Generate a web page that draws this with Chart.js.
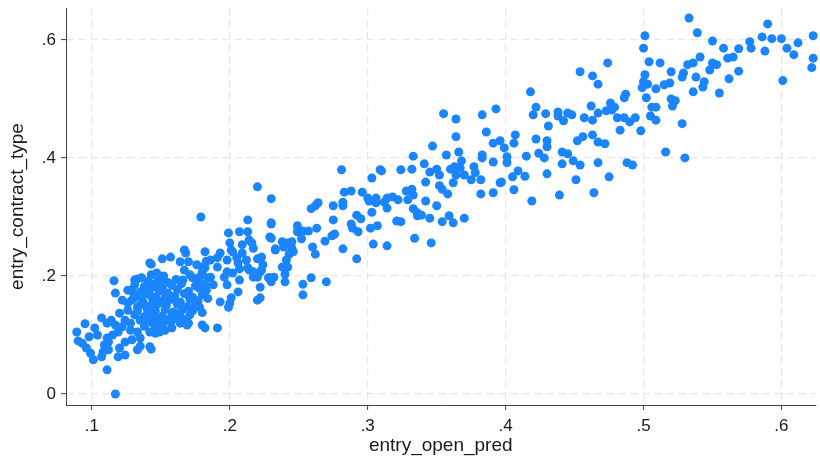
<!DOCTYPE html>
<html lang="en">
<head>
  <meta charset="UTF-8" />
  <title>entry_contract_type vs entry_open_pred</title>
  <script src="https://cdn.jsdelivr.net/npm/chart.js@4"></script>
  <style>
    html, body { margin: 0; padding: 0; background: #fff; }
    #wrap { width: 820px; height: 457px; }
  </style>
</head>
<body>
  <div id="wrap"><canvas id="scatter" width="820" height="457"></canvas></div>

  <script>
    const xTitle = 'entry_open_pred';
    const yTitle = 'entry_contract_type';
    const xTicks = [0.1, 0.2, 0.3, 0.4, 0.5, 0.6];
    const yTicks = [0, 0.2, 0.4, 0.6];

    // [entry_open_pred, entry_contract_type]
    const leftTail = [
      [0.089,0.105],[0.095,0.119],[0.102,0.112],[0.098,0.097],[0.090,0.090],[0.093,0.086],[0.096,0.078],
      [0.099,0.069],[0.101,0.058],[0.107,0.063],[0.108,0.071],[0.112,0.075],[0.107,0.129],[0.111,0.120],
      [0.114,0.125],[0.111,0.095],[0.112,0.088],[0.111,0.041],[0.117,0.000],[0.116,0.192],[0.117,0.171],
      [0.119,0.063],[0.120,0.078],[0.124,0.066],[0.119,0.105],[0.128,0.108],[0.133,0.105],[0.124,0.088],
      [0.129,0.092],[0.135,0.095],[0.133,0.075],[0.135,0.081],[0.120,0.137],[0.124,0.125],[0.128,0.120],
      [0.122,0.114],[0.122,0.159],[0.126,0.154],[0.133,0.147],[0.131,0.163],[0.129,0.176],[0.130,0.171],
      [0.133,0.195],[0.136,0.197],[0.140,0.178],[0.138,0.171],[0.138,0.122],[0.140,0.134],[0.104,0.100],
      [0.109,0.083],[0.115,0.100],[0.117,0.117],
      [0.142,0.080],[0.143,0.076],[0.146,0.103],[0.149,0.105],[0.147,0.129],[0.142,0.137],[0.144,0.120],
      [0.158,0.125],[0.164,0.120],[0.169,0.117],[0.142,0.222],[0.143,0.202],[0.147,0.205],[0.152,0.200],
      [0.146,0.164],[0.144,0.151]
    ];

    const denseCluster = [
      [0.167,0.244],[0.168,0.239],[0.182,0.241],[0.151,0.229],[0.157,0.232],[0.143,0.220],[0.164,0.224],
      [0.170,0.224],[0.176,0.219],[0.183,0.225],[0.131,0.193],[0.182,0.214],[0.180,0.207],[0.167,0.210],
      [0.171,0.202],[0.166,0.193],[0.173,0.197],[0.178,0.198],[0.184,0.197],
      [0.141,0.191],[0.148,0.195],[0.155,0.189],[0.161,0.194],[0.177,0.190],
      [0.131,0.185],[0.138,0.182],[0.146,0.186],[0.151,0.181],[0.158,0.184],[0.165,0.187],[0.175,0.183],[0.182,0.186],
      [0.126,0.176],[0.135,0.173],[0.142,0.178],[0.149,0.175],[0.155,0.171],[0.162,0.177],[0.170,0.174],[0.178,0.179],
      [0.133,0.167],[0.141,0.169],[0.146,0.165],[0.153,0.168],[0.160,0.166],[0.167,0.170],[0.173,0.164],[0.180,0.168],
      [0.129,0.159],[0.137,0.157],[0.144,0.161],[0.151,0.158],[0.157,0.160],[0.164,0.156],[0.171,0.161],[0.177,0.158],[0.184,0.162],
      [0.135,0.151],[0.142,0.149],[0.148,0.153],[0.154,0.150],[0.162,0.152],[0.169,0.148],[0.175,0.151],
      [0.126,0.142],[0.133,0.140],[0.140,0.144],[0.146,0.141],[0.153,0.143],[0.159,0.139],[0.166,0.144],[0.173,0.141],[0.180,0.138],
      [0.131,0.134],[0.138,0.131],[0.145,0.135],[0.151,0.132],[0.158,0.136],[0.164,0.138],
      [0.135,0.125],[0.142,0.127],[0.148,0.123],[0.154,0.126],[0.161,0.129],[0.167,0.126],
      [0.138,0.115],[0.146,0.113],[0.151,0.116],[0.158,0.112],[0.142,0.105],[0.153,0.108],
      [0.180,0.117],[0.182,0.112],[0.191,0.112],[0.200,0.154],[0.199,0.147],[0.220,0.159],[0.193,0.156],
      [0.178,0.147],[0.171,0.134],[0.164,0.131],[0.157,0.122],[0.149,0.120],[0.170,0.120],[0.151,0.190],[0.144,0.181]
    ];

    const midLow = [
      [0.179,0.300],[0.220,0.351],[0.213,0.295],[0.199,0.273],[0.207,0.275],[0.213,0.275],[0.214,0.261],
      [0.200,0.256],[0.209,0.253],[0.217,0.247],[0.201,0.244],[0.193,0.239],[0.191,0.231],[0.198,0.227],
      [0.205,0.231],[0.212,0.227],[0.220,0.229],[0.198,0.207],[0.207,0.212],[0.214,0.210],[0.217,0.198],
      [0.230,0.290],[0.229,0.266],[0.216,0.256],[0.238,0.258],[0.233,0.244],[0.202,0.241],[0.209,0.239],
      [0.223,0.232],[0.186,0.227],[0.180,0.215],[0.191,0.215],[0.206,0.222],[0.213,0.214],[0.224,0.219],
      [0.238,0.215],[0.202,0.205],[0.217,0.207],[0.222,0.207],[0.229,0.197],[0.186,0.198],[0.196,0.198],
      [0.207,0.193],[0.222,0.181],[0.206,0.173],[0.198,0.185],[0.188,0.185],[0.183,0.176],[0.240,0.190],
      [0.222,0.163],[0.201,0.163]
    ];

    const midBand = [
      [0.230,0.331],[0.281,0.380],[0.303,0.366],[0.309,0.380],[0.283,0.342],[0.288,0.344],[0.296,0.342],
      [0.300,0.332],[0.301,0.327],[0.306,0.332],[0.306,0.324],[0.259,0.314],[0.262,0.319],[0.264,0.324],
      [0.275,0.319],[0.282,0.325],[0.282,0.319],[0.230,0.288],[0.230,0.264],[0.233,0.246],[0.249,0.285],
      [0.249,0.275],[0.253,0.276],[0.257,0.276],[0.263,0.281],[0.252,0.263],[0.239,0.249],[0.242,0.256],
      [0.245,0.258],[0.245,0.247],[0.246,0.241],[0.243,0.237],[0.241,0.227],[0.242,0.215],[0.240,0.203],
      [0.275,0.295],[0.288,0.288],[0.289,0.281],[0.293,0.275],[0.292,0.303],[0.295,0.297],[0.303,0.308],
      [0.302,0.281],[0.260,0.249],[0.262,0.237],[0.269,0.259],[0.274,0.268],[0.276,0.271],[0.282,0.246],
      [0.292,0.229],[0.304,0.254],[0.223,0.210],[0.220,0.198],[0.228,0.197],[0.232,0.198],[0.230,0.190],
      [0.253,0.186],[0.259,0.197],[0.270,0.190],[0.253,0.168]
    ];

    const upperMid = [
      [0.355,0.475],[0.364,0.466],[0.383,0.473],[0.393,0.483],[0.386,0.444],[0.364,0.436],[0.347,0.420],
      [0.391,0.425],[0.396,0.429],[0.366,0.410],[0.357,0.405],[0.333,0.403],[0.383,0.405],[0.383,0.400],
      [0.368,0.395],[0.391,0.393],[0.341,0.390],[0.310,0.378],[0.324,0.380],[0.332,0.381],[0.345,0.376],
      [0.350,0.381],[0.352,0.371],[0.360,0.381],[0.363,0.385],[0.367,0.383],[0.377,0.385],[0.378,0.375],
      [0.364,0.371],[0.370,0.371],[0.375,0.363],[0.382,0.363],[0.362,0.358],[0.342,0.359],[0.352,0.353],
      [0.354,0.347],[0.358,0.339],[0.328,0.344],[0.332,0.347],[0.333,0.337],[0.329,0.329],[0.318,0.334],
      [0.322,0.329],[0.314,0.332],[0.312,0.325],[0.314,0.315],[0.342,0.327],[0.350,0.319],[0.333,0.314],
      [0.336,0.307],[0.336,0.302],[0.339,0.303],[0.345,0.298],[0.359,0.302],[0.362,0.290],[0.370,0.298],
      [0.354,0.292],[0.321,0.293],[0.324,0.292],[0.307,0.285],[0.334,0.264],[0.346,0.256],[0.314,0.251],
      [0.382,0.339],[0.391,0.341],[0.396,0.358]
    ];

    const upperBand = [
      [0.474,0.561],[0.454,0.546],[0.463,0.539],[0.467,0.525],[0.418,0.512],[0.422,0.486],[0.420,0.473],
      [0.429,0.475],[0.438,0.478],[0.438,0.471],[0.445,0.476],[0.448,0.473],[0.442,0.463],[0.457,0.468],
      [0.462,0.488],[0.467,0.476],[0.463,0.464],[0.473,0.480],[0.476,0.493],[0.477,0.481],[0.481,0.468],
      [0.483,0.447],[0.431,0.454],[0.407,0.439],[0.406,0.425],[0.399,0.417],[0.422,0.432],[0.430,0.429],
      [0.430,0.419],[0.452,0.429],[0.456,0.436],[0.463,0.439],[0.467,0.427],[0.472,0.424],[0.424,0.408],
      [0.428,0.400],[0.441,0.410],[0.445,0.407],[0.449,0.395],[0.454,0.388],[0.441,0.390],[0.467,0.392],
      [0.415,0.403],[0.401,0.402],[0.401,0.392],[0.409,0.378],[0.405,0.368],[0.414,0.369],[0.430,0.373],
      [0.397,0.359],[0.406,0.346],[0.451,0.363],[0.475,0.368],[0.464,0.341],[0.439,0.337],[0.419,0.327]
    ];

    const topBand = [
      [0.533,0.637],[0.539,0.612],[0.550,0.598],[0.501,0.607],[0.500,0.586],[0.504,0.563],[0.512,0.561],
      [0.532,0.558],[0.536,0.561],[0.541,0.571],[0.550,0.561],[0.548,0.549],[0.520,0.546],[0.529,0.544],
      [0.528,0.537],[0.538,0.537],[0.544,0.529],[0.543,0.520],[0.536,0.512],[0.555,0.510],[0.501,0.541],
      [0.500,0.529],[0.503,0.525],[0.499,0.519],[0.509,0.517],[0.515,0.524],[0.519,0.527],[0.487,0.508],
      [0.486,0.502],[0.502,0.502],[0.520,0.500],[0.523,0.497],[0.521,0.488],[0.506,0.486],[0.509,0.486],
      [0.479,0.486],[0.505,0.471],[0.509,0.464],[0.486,0.468],[0.490,0.461],[0.494,0.468],[0.498,0.446],
      [0.528,0.458],[0.516,0.410],[0.530,0.400],[0.488,0.392],[0.492,0.388],
      [0.590,0.627],[0.586,0.605],[0.593,0.602],[0.600,0.602],[0.577,0.597],[0.578,0.586],[0.588,0.581],
      [0.612,0.595],[0.604,0.586],[0.609,0.575],[0.623,0.607],[0.623,0.569],[0.622,0.553],[0.558,0.586],
      [0.561,0.569],[0.565,0.571],[0.569,0.585],[0.553,0.558],[0.569,0.547],[0.562,0.534],[0.601,0.531]
    ];

    const points = [].concat(leftTail, denseCluster, midLow, midBand, upperMid, upperBand, topBand)
      .map(p => ({ x: p[0], y: p[1] }));

    // Stata style: ".2" instead of "0.2"
    function stataLabel(v) {
      const s = (Math.round(v * 10) / 10).toString();
      return s.replace(/^0\./, '.');
    }

    const fontFamily = '"Liberation Sans", Arial, Helvetica, sans-serif';
    const textColor = '#1a1a1a';
    const axisColor = '#444';
    const gridColor = '#e6e6e6';

    const ctx = document.getElementById('scatter').getContext('2d');
    new Chart(ctx, {
      type: 'scatter',
      data: {
        datasets: [{
          data: points,
          backgroundColor: '#1a85ff',
          borderWidth: 0,
          pointRadius: 4.5,
          pointHoverRadius: 4.5,
          clip: false
        }]
      },
      options: {
        responsive: false,
        animation: false,
        devicePixelRatio: 1,
        layout: { padding: { top: 8, right: 0, bottom: 0, left: 0 } },
        plugins: {
          legend: { display: false },
          tooltip: { enabled: false }
        },
        scales: {
          x: {
            type: 'linear',
            min: 0.0812,
            max: 0.6247,
            afterBuildTicks: s => { s.ticks = xTicks.map(v => ({ value: v })); },
            afterFit: s => { s.height = 52; s.paddingLeft = 0; s.paddingRight = 0; },
            ticks: {
              callback: stataLabel,
              color: textColor,
              font: { family: fontFamily, size: 17 },
              padding: 6,
              maxRotation: 0,
              autoSkip: false
            },
            grid: { color: gridColor, lineWidth: 1.2, tickLength: 5, tickColor: axisColor, tickWidth: 1 },
            border: { color: axisColor, width: 1, dash: [7, 5] },
            title: {
              display: true,
              text: xTitle,
              color: textColor,
              font: { family: fontFamily, size: 19 },
              padding: { top: 0, bottom: 0 }
            }
          },
          y: {
            type: 'linear',
            min: -0.0186,
            max: 0.654,
            afterBuildTicks: s => { s.ticks = yTicks.map(v => ({ value: v })); },
            afterFit: s => { s.width = 66; s.paddingTop = 0; s.paddingBottom = 0; },
            ticks: {
              callback: stataLabel,
              color: textColor,
              font: { family: fontFamily, size: 17 },
              padding: 5,
              autoSkip: false
            },
            grid: { color: gridColor, lineWidth: 1.2, tickLength: 5, tickColor: axisColor, tickWidth: 1 },
            border: { color: axisColor, width: 1, dash: [7, 5] },
            title: {
              display: true,
              text: yTitle,
              color: textColor,
              font: { family: fontFamily, size: 19 },
              padding: { top: 6, bottom: 0 }
            }
          }
        }
      }
    });
  </script>
</body>
</html>
